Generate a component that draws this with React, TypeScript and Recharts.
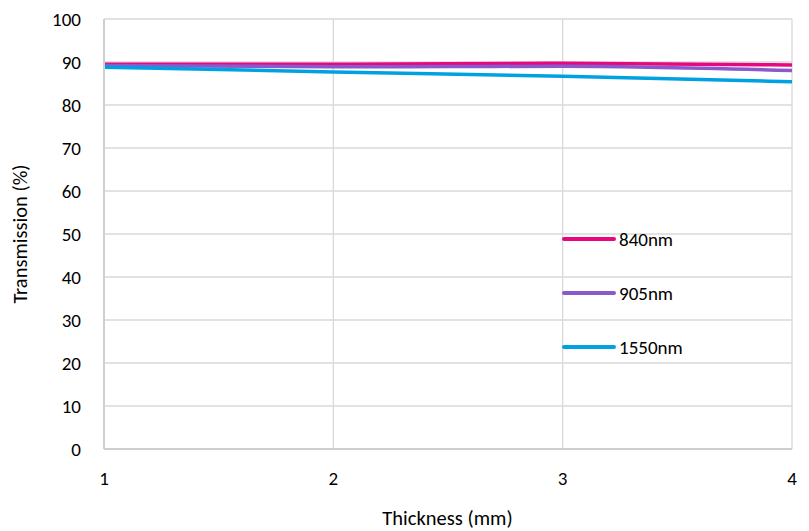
import * as React from "react";
import { CartesianGrid, Line, LineChart, XAxis, YAxis } from "recharts";

// thickness in mm
const thickness = [1, 2, 3, 4];
// transmission (%) per wavelength
const t840 = [89.5, 89.5, 89.7, 89.3];
const t905 = [89.2, 88.9, 89.0, 88.0];
const t1550 = [88.8, 87.7, 86.7, 85.4];

const xTicks = [1, 2, 3, 4];
const yTicks = [0, 10, 20, 30, 40, 50, 60, 70, 80, 90, 100];

const seriesDefs = [
  { key: "nm840", name: "840nm", color: "#E8077F" },
  { key: "nm905", name: "905nm", color: "#8A5ACD" },
  { key: "nm1550", name: "1550nm", color: "#00A1E2" },
];

const FONT = "Carlito, Lato, sans-serif";
const GRID = "#d9d9d9";

const data = thickness.map((t, i) => ({
  t,
  nm840: t840[i],
  nm905: t905[i],
  nm1550: t1550[i],
}));

// legend sits inside the plot area, like the original
function LegendBox() {
  return (
    <div
      style={{
        position: "absolute",
        top: 212,
        left: 562,
        fontFamily: FONT,
        fontSize: 19,
        color: "#000",
      }}
    >
      {seriesDefs.map((s) => (
        <div key={s.key} style={{ display: "flex", alignItems: "center", height: 54 }}>
          <span
            style={{
              display: "inline-block",
              width: 54,
              height: 3.5,
              background: s.color,
              borderRadius: 2,
              marginRight: 3,
            }}
          />
          <span>{s.name}</span>
        </div>
      ))}
    </div>
  );
}

export default function App() {
  return (
    <div style={{ position: "absolute", top: 0, left: 0, width: 809, height: 531, background: "#fff" }}>
      <LineChart
        width={809}
        height={531}
        data={data}
        margin={{ top: 19, right: 17, bottom: 0, left: 0 }}
      >
        <CartesianGrid stroke={GRID} strokeWidth={1.3} />
        <XAxis
          dataKey="t"
          type="number"
          domain={[1, 4]}
          ticks={xTicks}
          height={82}
          axisLine={{ stroke: "#cfcfcf", strokeWidth: 2 }}
          tickLine={false}
          tickSize={0}
          tickMargin={23}
          tick={{ fill: "#000", fontSize: 19, fontFamily: FONT }}
        />
        <YAxis
          type="number"
          domain={[0, 100]}
          ticks={yTicks}
          width={104}
          axisLine={{ stroke: "#cfcfcf", strokeWidth: 2 }}
          tickLine={false}
          tickSize={0}
          tickMargin={23}
          tick={{ fill: "#000", fontSize: 19, fontFamily: FONT }}
        />
        {seriesDefs.map((s) => (
          <Line
            key={s.key}
            type="monotone"
            dataKey={s.key}
            name={s.name}
            stroke={s.color}
            strokeWidth={3.5}
            dot={false}
            isAnimationActive={false}
          />
        ))}
      </LineChart>
      <LegendBox />
      <div
        style={{
          position: "absolute",
          left: 0,
          width: 809,
          paddingLeft: 86,
          boxSizing: "border-box",
          top: 505,
          textAlign: "center",
          fontFamily: FONT,
          fontSize: 20.5,
          color: "#000",
        }}
      >
        Thickness (mm)
      </div>
      <div
        style={{
          position: "absolute",
          left: 20,
          top: 234,
          transform: "translate(-50%, -50%) rotate(-90deg)",
          whiteSpace: "nowrap",
          fontFamily: FONT,
          fontSize: 20.5,
          color: "#000",
        }}
      >
        Transmission (%)
      </div>
    </div>
  );
}
